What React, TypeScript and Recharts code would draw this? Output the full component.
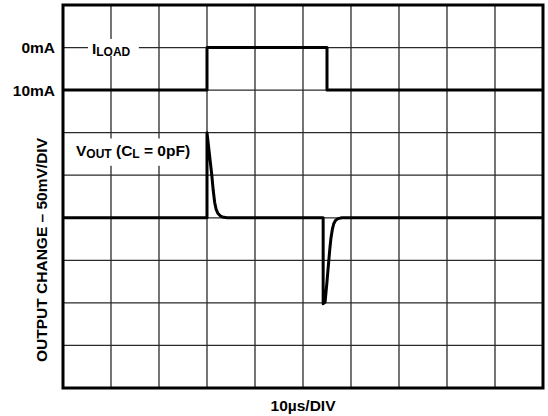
import React from "react";
import {
  LineChart,
  Line,
  XAxis,
  YAxis,
  CartesianGrid,
  ReferenceArea,
} from "recharts";

// time axis, microseconds (10 µs / division)
const timeTicks = [0, 10, 20, 30, 40, 50, 60, 70, 80, 90, 100];

// load current step (mA)
const iloadTime = [0, 30, 30, 55, 55, 100];
const iloadMa = [10, 10, 0, 0, 10, 10];
const iloadTicks = [0, 10];

// output change (mV), 50 mV / division
const voutTime = [
  0, 30, 30, 30.6, 31.0, 31.3, 31.6, 31.9, 32.3, 32.8, 33.5, 34.2,
  54.2, 54.2, 54.6, 55.0, 55.3, 55.6, 55.8, 56.1, 56.4, 56.8, 57.3, 58.1, 100,
];
const voutMv = [
  0, 0, 100, 70, 50, 32, 18, 10, 5, 2, 0.5, 0,
  0, -101, -99, -75, -55, -36, -25, -14, -7, -3, -1, 0, 0,
];
const voutTicks = [-200, -150, -100, -50, 0, 50, 100, 150, 200, 250];

const iloadData = iloadTime.map((t, i) => ({ t, i: iloadMa[i] }));
const voutData = voutTime.map((t, i) => ({ t, v: voutMv[i] }));

const FONT = "'Liberation Sans', Arial, Helvetica, sans-serif";
const FS = 15.5;
const SUB = 12;

const YLabel = (props: any) => {
  const vb = props.viewBox || { x: 0, y: 0, width: 0, height: 0 };
  const cx = vb.x + 41;
  const cy = vb.y + 245;
  return (
    <text
      x={cx}
      y={cy}
      transform={`rotate(-90 ${cx} ${cy})`}
      textAnchor="middle"
      dominantBaseline="central"
      fontFamily={FONT}
      fontWeight="bold"
      fontSize={FS}
      fill="#000"
    >
      OUTPUT CHANGE – 50mV/DIV
    </text>
  );
};

const XLabel = (props: any) => {
  const vb = props.viewBox || { x: 0, y: 0, width: 0, height: 0 };
  return (
    <text
      x={vb.x + vb.width / 2}
      y={vb.y + 17}
      textAnchor="middle"
      dominantBaseline="central"
      fontFamily={FONT}
      fontWeight="bold"
      fontSize={FS}
      fill="#000"
    >
      10µs/DIV
    </text>
  );
};

const ILoadLabel = (props: any) => {
  const vb = props.viewBox || { x: 0, y: 0, width: 0, height: 0 };
  return (
    <text
      x={vb.x + 4}
      y={vb.y + vb.height / 2}
      dominantBaseline="central"
      fontFamily={FONT}
      fontWeight="bold"
      fontSize={FS}
      fill="#000"
    >
      <tspan>I</tspan>
      <tspan fontSize={SUB} dy={4}>LOAD</tspan>
    </text>
  );
};

const VoutLabel = (props: any) => {
  const vb = props.viewBox || { x: 0, y: 0, width: 0, height: 0 };
  return (
    <text
      x={vb.x + 1}
      y={vb.y + vb.height / 2 - 2}
      dominantBaseline="central"
      fontFamily={FONT}
      fontWeight="bold"
      fontSize={FS}
      fill="#000"
    >
      <tspan>V</tspan>
      <tspan fontSize={SUB} dy={4}>OUT</tspan>
      <tspan fontSize={FS} dy={-4}> (C</tspan>
      <tspan fontSize={SUB} dy={4}>L</tspan>
      <tspan fontSize={FS} dy={-4}> = 0pF)</tspan>
    </text>
  );
};

const EmptyTick = () => <g />;

export default function App() {
  return (
    <div style={{ position: "absolute", left: 0, top: 0, background: "#fff" }}>
      <LineChart
        width={548}
        height={416}
        margin={{ top: 5, right: 5, bottom: 0, left: 0 }}
      >
        <XAxis
          dataKey="t"
          type="number"
          domain={[0, 100]}
          ticks={timeTicks}
          allowDataOverflow
          tick={<EmptyTick />}
          tickLine={false}
          axisLine={false}
          height={28}
          label={<XLabel />}
        />
        <YAxis
          yAxisId="i"
          type="number"
          domain={[-10, 80]}
          reversed
          ticks={iloadTicks}
          allowDataOverflow
          width={63}
          axisLine={false}
          tickLine={false}
          tickSize={6}
          tickMargin={2}
          tickFormatter={(v: number) => `${v}mA`}
          tick={{ fill: "#000", fontSize: FS, fontWeight: "bold", fontFamily: FONT }}
          label={<YLabel />}
        />
        <YAxis
          yAxisId="v"
          type="number"
          domain={[-200, 250]}
          ticks={voutTicks}
          allowDataOverflow
          hide
        />
        <CartesianGrid
          yAxisId="v"
          stroke="#2a2a2a"
          strokeWidth={1.3}
          strokeDasharray=""
        />
        <ReferenceArea
          yAxisId="i"
          x1={5.2}
          x2={15.8}
          y1={-2}
          y2={2}
          fill="#fff"
          fillOpacity={1}
          stroke="none"
          label={<ILoadLabel />}
          ifOverflow="visible"
        />
        <ReferenceArea
          yAxisId="v"
          x1={2.5}
          x2={27.9}
          y1={61}
          y2={93}
          fill="#fff"
          fillOpacity={1}
          stroke="none"
          label={<VoutLabel />}
          ifOverflow="visible"
        />
        <Line
          yAxisId="i"
          data={iloadData}
          dataKey="i"
          type="linear"
          stroke="#000"
          strokeWidth={3}
          strokeLinejoin="round"
          dot={false}
          activeDot={false}
          isAnimationActive={false}
        />
        <Line
          yAxisId="v"
          data={voutData}
          dataKey="v"
          type="linear"
          stroke="#000"
          strokeWidth={3}
          strokeLinejoin="round"
          strokeLinecap="round"
          dot={false}
          activeDot={false}
          isAnimationActive={false}
        />
        <ReferenceArea
          yAxisId="v"
          x1={0}
          x2={100}
          y1={-200}
          y2={250}
          fill="none"
          stroke="#000"
          strokeWidth={3}
          ifOverflow="visible"
        />
      </LineChart>
    </div>
  );
}
